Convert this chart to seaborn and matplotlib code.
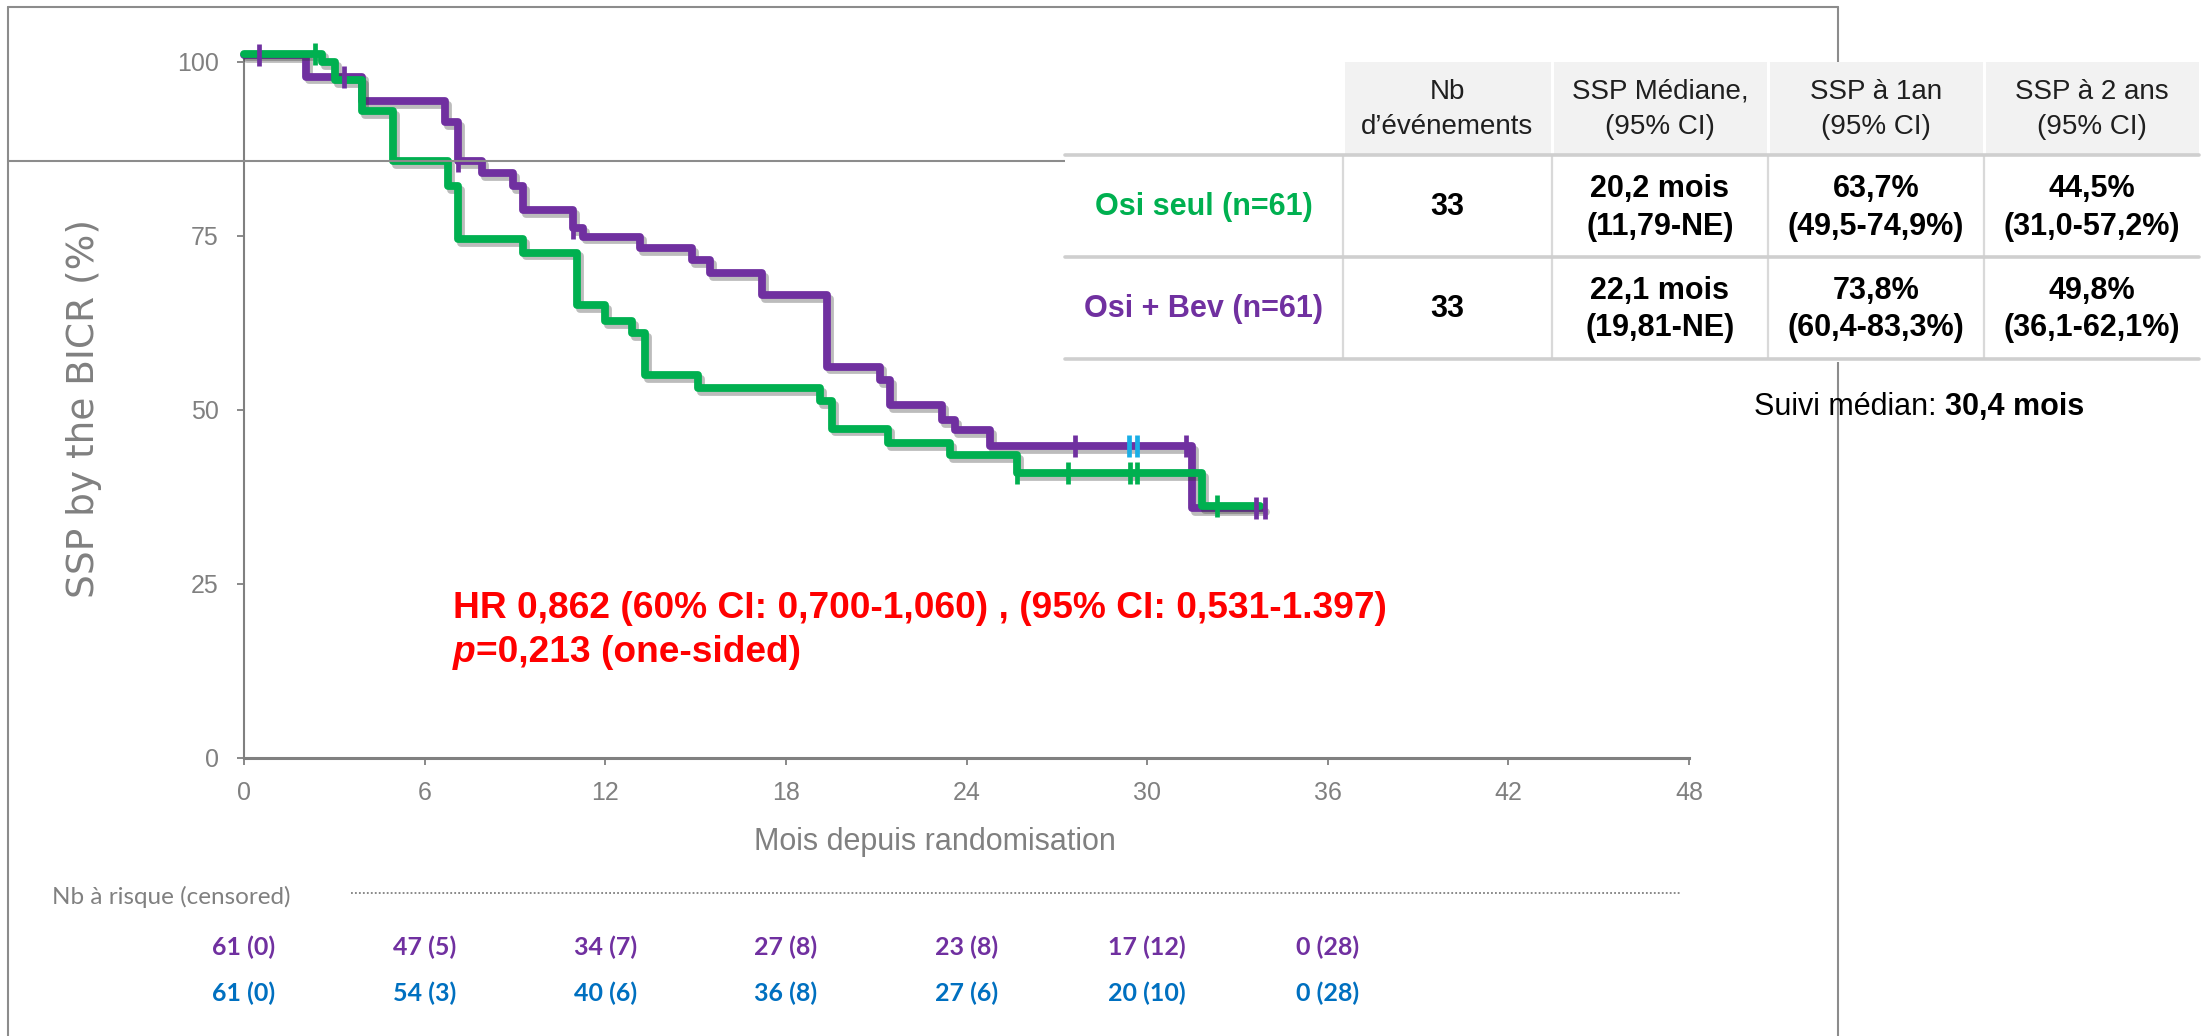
import numpy as np
import pandas as pd
import matplotlib
matplotlib.use("Agg")
import matplotlib.pyplot as plt
import matplotlib.patheffects as pe
import matplotlib.transforms as mtransforms
from matplotlib.lines import Line2D
from matplotlib.patches import Rectangle
import seaborn as sns

# ---------------------------------------------------------------- data
# Kaplan-Meier steps: time of each step (months) and PFS (%) after it
osi_time = [0.0, 2.58, 3.02, 3.91, 4.96, 6.79, 7.12, 9.28, 11.05, 12.0, 12.88,
            13.32, 15.09, 19.14, 19.52, 21.4, 23.45, 25.67, 31.82, 33.75]
osi_surv = [101.2, 100.0, 97.4, 92.9, 85.7, 82.1, 74.6, 72.6, 65.1, 62.7, 61.0,
            55.0, 53.1, 51.2, 47.3, 45.2, 43.5, 40.9, 36.1, 36.1]
bev_time = [0.0, 2.06, 3.91, 6.68, 7.12, 7.9, 8.95, 9.28, 10.94, 11.27, 13.16,
            14.87, 15.48, 17.2, 19.36, 21.13, 21.46, 23.18, 23.62, 24.78, 31.48, 33.86]
bev_surv = [101.0, 97.9, 94.4, 91.4, 85.7, 84.0, 82.1, 78.7, 76.1, 74.9, 73.2,
            71.5, 69.6, 66.5, 56.2, 54.3, 50.7, 48.5, 47.1, 44.8, 35.8, 35.8]

# censoring times (months)
osi_censor = [2.36, 25.67, 27.36, 29.43, 29.68, 32.32]
bev_censor = [0.51, 3.32, 7.12, 10.94, 27.6, 31.3, 33.6, 33.9]
bev_censor_blue = [29.41, 29.68]

# numbers at risk (censored)
risk_times = [0, 6, 12, 18, 24, 30, 36]
bev_at_risk = [61, 47, 34, 27, 23, 17, 0]
bev_censored = [0, 5, 7, 8, 8, 12, 28]
osi_at_risk = [61, 54, 40, 36, 27, 20, 0]
osi_censored = [0, 3, 6, 8, 6, 10, 28]

# summary table
header_top = ["Nb", "SSP Médiane,", "SSP à 1an", "SSP à 2 ans"]
header_bottom = ["d’événements", "(95% CI)", "(95% CI)", "(95% CI)"]
arm_labels = ["Osi seul (n=61)", "Osi + Bev (n=61)"]
events = ["33", "33"]
median_pfs = ["20,2 mois", "22,1 mois"]
median_ci = ["(11,79-NE)", "(19,81-NE)"]
pfs_1y = ["63,7%", "73,8%"]
pfs_1y_ci = ["(49,5-74,9%)", "(60,4-83,3%)"]
pfs_2y = ["44,5%", "49,8%"]
pfs_2y_ci = ["(31,0-57,2%)", "(36,1-62,1%)"]

hr_line = "HR 0,862 (60% CI: 0,700-1,060) , (95% CI: 0,531-1.397)"
p_line = "=0,213 (one-sided)"
follow_up = "30,4 mois"

# ---------------------------------------------------------------- style
GREEN = "#00B050"
PURPLE = "#7030A0"
BLUE = "#0070C0"
LIGHTBLUE = "#1AAEE6"
GRAY = "#808080"
FRAME = "#8C8C8C"
TXT = "#1F1F1F"

sns.set_theme(style="white")
plt.rcParams["font.family"] = ["Liberation Sans", "DejaVu Sans"]

W, H = 2212, 1036
fig = plt.figure(figsize=(W / 100, H / 100), dpi=100)


def fx(px):
    return px / W


def fy(py):
    return 1 - py / H


# ---------------------------------------------------------------- KM plot
ax = fig.add_axes([fx(244), fy(757.5), 1445 / W, 702.5 / H])
ax.patch.set_visible(False)

df = pd.concat([
    pd.DataFrame({"time": bev_time, "surv": bev_surv, "arm": "Osi + Bev"}),
    pd.DataFrame({"time": osi_time, "surv": osi_surv, "arm": "Osi seul"}),
], ignore_index=True)
palette = {"Osi seul": GREEN, "Osi + Bev": PURPLE}

sns.lineplot(data=df, x="time", y="surv", hue="arm",
             hue_order=["Osi + Bev", "Osi seul"], palette=palette,
             estimator=None, sort=False, drawstyle="steps-post",
             linewidth=5.6, legend=False, ax=ax)
shadow = [pe.SimpleLineShadow(offset=(2.2, -2.8), shadow_color="#303030", alpha=0.32),
          pe.Normal()]
for ln in ax.lines:
    ln.set_clip_on(False)
    ln.set_path_effects(shadow)
    ln.set_zorder(3)


def step_value(times, surv, t):
    idx = np.searchsorted(np.asarray(times), np.asarray(t), side="right") - 1
    return np.asarray(surv)[idx]


tick_kw = dict(marker="|", s=260, linewidths=3.4, clip_on=False, zorder=4)
ax.scatter(bev_censor, step_value(bev_time, bev_surv, bev_censor), color=PURPLE, **tick_kw)
ax.scatter(bev_censor_blue, step_value(bev_time, bev_surv, bev_censor_blue), color=LIGHTBLUE, **tick_kw)
ax.scatter(osi_censor, step_value(osi_time, osi_surv, osi_censor), color=GREEN, **tick_kw)

ax.set_xlim(0, 48)
ax.set_ylim(0, 101)
ax.set_xticks(range(0, 49, 6))
ax.set_yticks([0, 25, 50, 75, 100])
sns.despine(ax=ax)
ax.spines["left"].set_color(GRAY)
ax.spines["left"].set_linewidth(1.5)
ax.spines["bottom"].set_color(GRAY)
ax.spines["bottom"].set_linewidth(2.2)
ax.tick_params(axis="both", colors=GRAY, labelsize=18, length=5, width=1.3,
               direction="out", left=True, bottom=True)
ax.tick_params(axis="x", pad=12)
ax.tick_params(axis="y", pad=13)
ax.grid(False)

ax.set_xlabel("Mois depuis randomisation", fontsize=22, color=GRAY, va="center")
ax.xaxis.set_label_coords((935 - 244) / 1445, (757.5 - 842) / 702.5)
ax.set_ylabel("SSP by the BICR (%)", fontsize=27, color=GRAY, va="center",
              family="DejaVu Sans")
ax.yaxis.set_label_coords((84 - 244) / 1445, (757.5 - 409) / 702.5)

# ---------------------------------------------------------------- frame
frame_kw = dict(transform=fig.transFigure, color=FRAME, linewidth=1.5, zorder=1)
fig.add_artist(Line2D([fx(8), fx(8)], [fy(7), fy(H)], **frame_kw))
fig.add_artist(Line2D([fx(8), fx(1838)], [fy(7), fy(7)], **frame_kw))
fig.add_artist(Line2D([fx(1838), fx(1838)], [fy(7), fy(H)], **frame_kw))
fig.add_artist(Line2D([fx(8), fx(1065)], [fy(161), fy(161)], **frame_kw))

# ---------------------------------------------------------------- summary table
col_edges = [1065, 1343, 1552, 1768, 1984, 2199]
row_edges = [62, 155, 257, 359]


def rect(x0, y0, x1, y1, color, z):
    fig.add_artist(Rectangle((fx(x0), fy(y1)), fx(x1) - fx(x0), fy(y0) - fy(y1),
                             transform=fig.transFigure, facecolor=color,
                             edgecolor="none", zorder=z))


def hline(y, x0, x1, color, lw, z=6):
    fig.add_artist(Line2D([fx(x0), fx(x1)], [fy(y), fy(y)], transform=fig.transFigure,
                          color=color, linewidth=lw, zorder=z))


def vline(x, y0, y1, color, lw, z=6):
    fig.add_artist(Line2D([fx(x), fx(x)], [fy(y0), fy(y1)], transform=fig.transFigure,
                          color=color, linewidth=lw, zorder=z))


rect(col_edges[0], row_edges[0], col_edges[-1], row_edges[-1] + 3, "white", 5)
rect(col_edges[1], row_edges[0], col_edges[-1], row_edges[1], "#F2F2F2", 5)
for x in col_edges[1:-1]:
    vline(x, row_edges[0], row_edges[1], "white", 2.2)
    vline(x, row_edges[1], row_edges[-1], "#D9D9D9", 1.6)
for y in row_edges[1:]:
    hline(y, col_edges[0], col_edges[-1], "#CFCFCF", 2.6, z=7)

centers = [(a + b) / 2 for a, b in zip(col_edges[:-1], col_edges[1:])]
txt_kw = dict(transform=fig.transFigure, ha="center", va="center", zorder=8)
for c, top, bot in zip(centers[1:], header_top, header_bottom):
    fig.text(fx(c), fy(92), top, fontsize=20, color=TXT, **txt_kw)
    fig.text(fx(c), fy(127), bot, fontsize=20, color=TXT, **txt_kw)

row_mid = [206.7, 309]
row_l1 = [189, 291]
row_l2 = [227, 328]
arm_colors = [GREEN, PURPLE]
for i in range(2):
    fig.text(fx(centers[0]), fy(row_mid[i]), arm_labels[i], fontsize=22,
             fontweight="bold", color=arm_colors[i], **txt_kw)
    fig.text(fx(centers[1]), fy(row_mid[i]), events[i], fontsize=22,
             fontweight="bold", color="black", **txt_kw)
    for c, a, b in zip(centers[2:], [median_pfs[i], pfs_1y[i], pfs_2y[i]],
                       [median_ci[i], pfs_1y_ci[i], pfs_2y_ci[i]]):
        fig.text(fx(c), fy(row_l1[i]), a, fontsize=22, fontweight="bold",
                 color="black", **txt_kw)
        fig.text(fx(c), fy(row_l2[i]), b, fontsize=22, fontweight="bold",
                 color="black", **txt_kw)

renderer = fig.canvas.get_renderer()


def text_run(x, y, parts, fontsize, color, z=8):
    """Draw consecutive text pieces on one baseline starting at pixel x."""
    cur = fx(x)
    for s, weight, style in parts:
        t = fig.text(cur, fy(y), s, fontsize=fontsize, color=color, fontweight=weight,
                     fontstyle=style, ha="left", va="baseline",
                     transform=fig.transFigure, zorder=z)
        bb = t.get_window_extent(renderer=renderer)
        cur = bb.x1 / W


text_run(1754, 415, [("Suivi médian: ", "normal", "normal"),
                     (follow_up, "bold", "normal")], 22, "black")

# ---------------------------------------------------------------- HR annotation
text_run(453, 618, [(hr_line, "bold", "normal")], 26.7, "#FF0000")
text_run(453, 662, [("p", "bold", "italic"), (p_line, "bold", "normal")], 26.7, "#FF0000")

# ---------------------------------------------------------------- numbers at risk
fig.text(fx(52), fy(904), "Nb à risque (censored)", fontsize=17.5, color=GRAY,
         family=["Lato", "DejaVu Sans"], ha="left", va="baseline")
fig.add_artist(Line2D([fx(351), fx(1681)], [fy(893), fy(893)], transform=fig.transFigure,
                      color=GRAY, linewidth=1.3, linestyle=(0, (1, 1.2))))

risk_tr = mtransforms.blended_transform_factory(ax.transData, fig.transFigure)
for t, n1, c1, n2, c2 in zip(risk_times, bev_at_risk, bev_censored, osi_at_risk, osi_censored):
    ax.text(t, fy(955), f"{n1} ({c1})", transform=risk_tr, ha="center", va="baseline",
            fontsize=18, fontweight="bold", color=PURPLE, family=["Lato", "DejaVu Sans"],
            clip_on=False)
    ax.text(t, fy(1001), f"{n2} ({c2})", transform=risk_tr, ha="center", va="baseline",
            fontsize=18, fontweight="bold", color=BLUE, family=["Lato", "DejaVu Sans"],
            clip_on=False)

fig.savefig("out.png", dpi=100)
